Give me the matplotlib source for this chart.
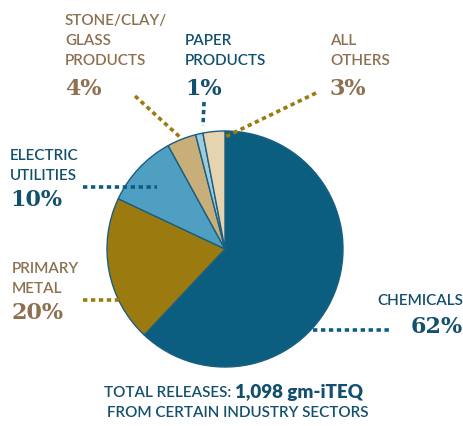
import matplotlib.pyplot as plt

# sectors, clockwise from 12 o'clock
sectors = ['CHEMICALS', 'PRIMARY\nMETAL', 'ELECTRIC\nUTILITIES',
           'STONE/CLAY/\nGLASS\nPRODUCTS', 'PAPER\nPRODUCTS', 'ALL\nOTHERS']
shares = [62, 20, 10, 4, 1, 3]
pct_labels = ['62%', '20%', '10%', '4%', '1%', '3%']

blue_dk = '#0b5e80'
gold = '#9b7b10'
brown = '#8c7050'
navy = '#12506e'
slice_colors = [blue_dk, gold, '#4f9fc2', '#c8ae78', '#9fcbe0', '#e5d4ae']

W, H = 464, 427
fig = plt.figure(figsize=(W / 100, H / 100), dpi=100)
ax = fig.add_axes([0, 0, 1, 1])

def py(y):
    # pixel row (top-down) to axes y
    return H - y

ax.pie(shares, colors=slice_colors, startangle=90, counterclock=False,
       center=(225, py(250)), radius=118, frame=True,
       wedgeprops=dict(edgecolor='#1b5f7f', linewidth=1))
ax.set_xlim(0, W)
ax.set_ylim(0, H)
ax.set_aspect('equal')
ax.axis('off')

lab_font = 'Lato'
pct_font = 'DejaVu Serif'

# (x, top of name block, centre of percent, align, text colour, line colour, leader)
layout = [
    (463, 294, 327, 'right', navy, blue_dk, [(313, 331), (390, 331)]),
    (12, 262, 313, 'left', brown, gold, [(83, 301), (120, 301)]),
    (10, 149, 200, 'left', navy, blue_dk, [(83, 188), (157, 188)]),
    (65, 14, 89, 'left', brown, gold, [(135, 97), (182, 140)]),
    (185, 34, 89, 'left', navy, blue_dk, [(204, 103), (203, 127)]),
    (330, 34, 89, 'left', brown, gold, [(316, 94), (225, 138)]),
]

for name, pct, (x, yn, yp, ha, tc, lc, ldr) in zip(sectors, pct_labels, layout):
    ax.text(x, py(yn), name, ha=ha, va='top', color=tc, fontsize=11,
            family=lab_font, fontweight='semibold', linespacing=1.55)
    ax.text(x, py(yp), pct, ha=ha, va='center', color=tc, fontsize=16,
            family=pct_font, fontweight='bold')
    (x0, y0), (x1, y1) = ldr
    ax.plot([x0, x1], [py(y0), py(y1)], color=lc, lw=2.6, ls=(0, (1.2, 1.0)),
            solid_capstyle='butt')

ax.text(235, py(393), 'TOTAL RELEASES: ', ha='right', va='center', color=navy,
        fontsize=11, family=lab_font, fontweight='semibold')
ax.text(235, py(393), '1,098 gm-iTEQ', ha='left', va='center', color=navy,
        fontsize=13.5, family=lab_font, fontweight='heavy')
ax.text(238, py(413), 'FROM CERTAIN INDUSTRY SECTORS', ha='center', va='center',
        color=navy, fontsize=11, family=lab_font, fontweight='semibold')

fig.savefig('out.png', dpi=100)
